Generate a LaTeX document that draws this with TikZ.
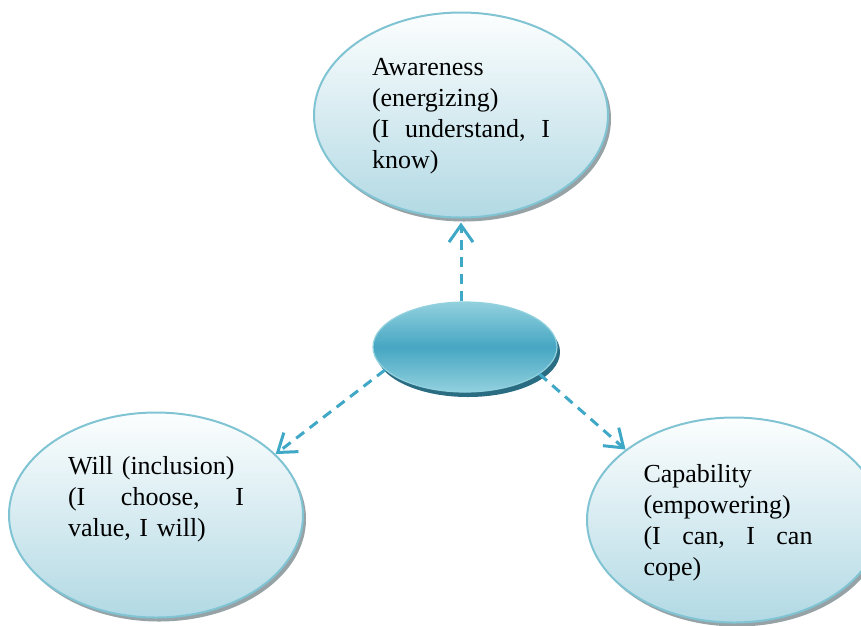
\documentclass[tikz,border=0pt]{standalone}
\usepackage{fontspec}
\setmainfont{Liberation Serif}
\usepackage{tikz}
\usetikzlibrary{arrows.meta, positioning, shapes.geometric, calc}
\definecolor{bubbleline}{RGB}{128, 196, 212}
\definecolor{bubbletop}{RGB}{252, 254, 254}
\definecolor{bubblebottom}{RGB}{178, 217, 228}
\definecolor{bubbleshade}{RGB}{150, 162, 166}
\definecolor{hubmid}{RGB}{70, 166, 195}
\definecolor{hubedge}{RGB}{146, 209, 222}
\definecolor{hubshade}{RGB}{42, 108, 130}
\definecolor{linkblue}{RGB}{64, 168, 199}

\begin{document}
\begin{tikzpicture}[x=1pt, y=-1pt,
    bubble/.style={ellipse, draw=bubbleline, line width=2pt, top color=bubbletop, bottom color=bubblebottom,
        minimum width=294pt, minimum height=205pt, inner sep=0pt,
        preaction={fill=bubbleshade, transform canvas={shift={(3pt,-4pt)}}}},
    hubbox/.style={ellipse, draw=hubedge, line width=1.2pt, top color=hubedge, bottom color=hubedge, middle color=hubmid,
        minimum width=184pt, minimum height=90pt, inner sep=0pt,
        preaction={fill=hubshade, transform canvas={shift={(3pt,-5pt)}}}},
    bubbletext/.style={align=left, inner sep=0pt, font=\fontsize{26}{31}\selectfont},
    link/.style={draw=linkblue, line width=3pt, dash pattern=on 10pt off 7pt,
        -{Straight Barb[length=17pt, width=24pt]}}]
\useasboundingbox (0,0) rectangle (861,625);

\node[bubble] (aware) at (461,115) {};
\node[bubble] (will) at (156,515) {};
\node[bubble] (capable) at (734,520) {};
\node[hubbox] (hub) at (465,347) {};

\node[bubbletext, text width=178pt] (awaretext) at ([yshift=-1pt]aware.center)
    {Awareness\\(energizing)\\(I\hfill understand,\hfill I\\know)};
\node[bubbletext, text width=176pt] (willtext) at ([yshift=16pt]will.center)
    {Will (inclusion)\\(I\hfill choose,\hfill I\\value, I will)};
\node[bubbletext, text width=169pt] (capabletext) at ([xshift=-6pt, yshift=-3pt]capable.center)
    {Capability\\(empowering)\\(I\hfill can,\hfill I\hfill can\\cope)};

\draw[link] (aware.south |- hub.north) -- ([yshift=-4pt]aware.south);
\draw[link] (hub.196) -- (will.27);
\draw[link] (hub.340) -- (capable.147);
\end{tikzpicture}
\end{document}
